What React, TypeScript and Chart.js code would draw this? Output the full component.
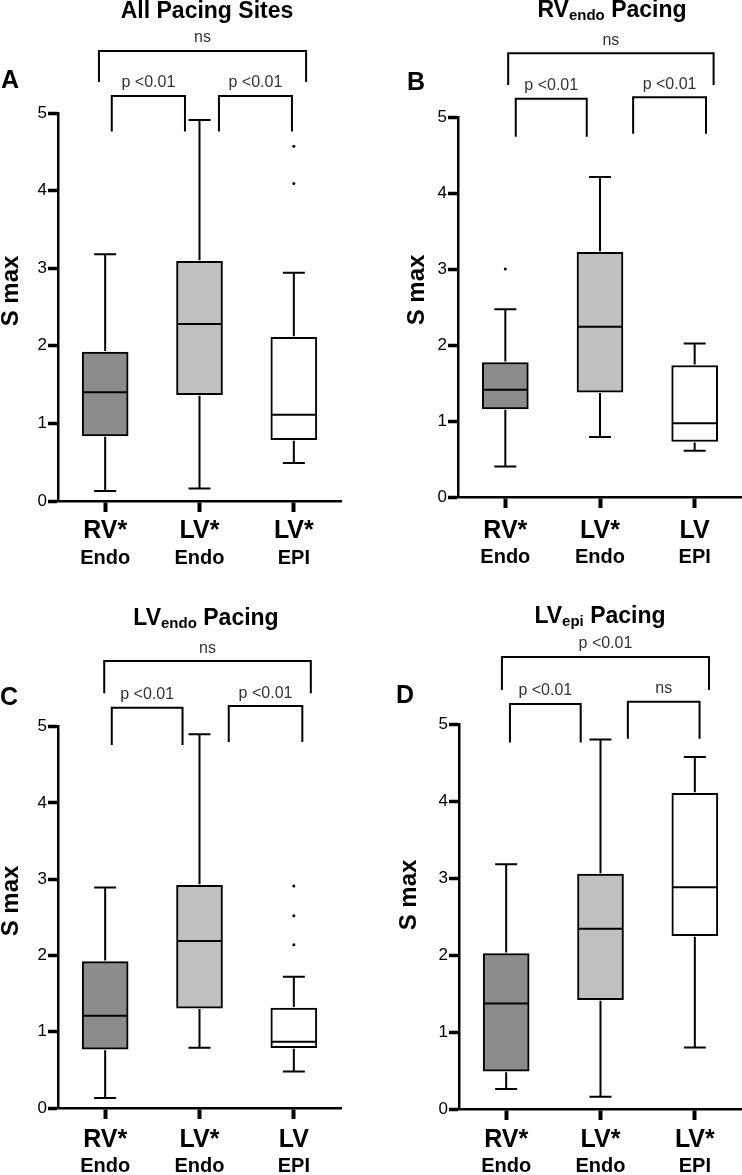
import React, { useEffect, useRef } from "react";
import { Chart, registerables } from "chart.js";

Chart.register(...registerables);

const FONT = '"Liberation Sans", Arial, Helvetica, sans-serif';

// ---------- Panel A : All Pacing Sites ----------
const categoriesA = [["RV*", "Endo"], ["LV*", "Endo"], ["LV*", "EPI"]];
const minA = [0.13, 0.16, 0.49];
const q1A = [0.84, 1.37, 0.79];
const medianA = [1.4, 2.28, 1.11];
const q3A = [1.92, 3.09, 2.11];
const maxA = [3.18, 4.91, 2.94];
const outliersA = [[], [], [4.57, 4.09]];
const comparisonsA = ["ns", "p <0.01", "p <0.01"];

// ---------- Panel B : RVendo Pacing ----------
const categoriesB = [["RV*", "Endo"], ["LV*", "Endo"], ["LV", "EPI"]];
const minB = [0.4, 0.79, 0.61];
const q1B = [1.16, 1.38, 0.73];
const medianB = [1.41, 2.24, 0.97];
const q3B = [1.77, 3.22, 1.73];
const maxB = [2.47, 4.21, 2.02];
const outliersB = [[3.0], [], []];
const comparisonsB = ["ns", "p <0.01", "p <0.01"];

// ---------- Panel C : LVendo Pacing ----------
const categoriesC = [["RV*", "Endo"], ["LV*", "Endo"], ["LV", "EPI"]];
const minC = [0.13, 0.79, 0.48];
const q1C = [0.77, 1.31, 0.79];
const medianC = [1.21, 2.19, 0.87];
const q3C = [1.92, 2.92, 1.31];
const maxC = [2.89, 4.9, 1.72];
const outliersC = [[], [], [2.91, 2.52, 2.14]];
const comparisonsC = ["ns", "p <0.01", "p <0.01"];

// ---------- Panel D : LVepi Pacing ----------
const categoriesD = [["RV*", "Endo"], ["LV*", "Endo"], ["LV*", "EPI"]];
const minD = [0.26, 0.16, 0.8];
const q1D = [0.49, 1.42, 2.25];
const medianD = [1.37, 2.34, 2.88];
const q3D = [2.02, 3.05, 4.1];
const maxD = [3.18, 4.8, 4.57];
const outliersD = [[], [], []];
const comparisonsD = ["p <0.01", "p <0.01", "ns"];

const yTicks = [0, 1, 2, 3, 4, 5];
const boxFills = ["#8c8c8c", "#c0c0c0", "#ffffff"];

type Part = { t: string; sub?: boolean };

const panels = [
  {
    key: "A", left: 0, top: 0, w: 371, h: 580,
    padTop: 113, padRight: 30, yWidth: 58, xHeight: 79,
    title: [{ t: "All Pacing Sites" }] as Part[], titleX: 207, titleY: 18,
    letter: "A", letterX: 10, letterY: 88,
    yTitleX: 18, yTitleY: 291, lab1: 37, lab2: 63,
    cats: categoriesA, min: minA, q1: q1A, med: medianA, q3: q3A, max: maxA, out: outliersA, comp: comparisonsA,
    brackets: [
      { from: -0.066, to: 2.13, top: 5.8, leg: 5.4 },
      { from: 0.07, to: 0.846, top: 5.22, leg: 4.76 },
      { from: 1.206, to: 1.98, top: 5.22, leg: 4.76 },
    ],
  },
  {
    key: "B", left: 371, top: 0, w: 371, h: 580,
    padTop: 117, padRight: 0, yWidth: 87, xHeight: 83,
    title: [{ t: "RV" }, { t: "endo", sub: true }, { t: " Pacing" }] as Part[], titleX: 241, titleY: 17,
    letter: "B", letterX: 45, letterY: 90,
    yTitleX: 53, yTitleY: 290, lab1: 41, lab2: 66,
    cats: categoriesB, min: minB, q1: q1B, med: medianB, q3: q3B, max: maxB, out: outliersB, comp: comparisonsB,
    brackets: [
      { from: 0.03, to: 2.2, top: 5.84, leg: 5.42 },
      { from: 0.11, to: 0.86, top: 5.24, leg: 4.74 },
      { from: 1.35, to: 2.12, top: 5.26, leg: 4.78 },
    ],
  },
  {
    key: "C", left: 0, top: 580, w: 371, h: 595,
    padTop: 146.7, padRight: 30, yWidth: 58, xHeight: 67,
    title: [{ t: "LV" }, { t: "endo", sub: true }, { t: " Pacing" }] as Part[], titleX: 206, titleY: 45,
    letter: "C", letterX: 9, letterY: 125,
    yTitleX: 18, yTitleY: 321, lab1: 39, lab2: 64,
    cats: categoriesC, min: minC, q1: q1C, med: medianC, q3: q3C, max: maxC, out: outliersC, comp: comparisonsC,
    brackets: [
      { from: -0.01, to: 2.18, top: 5.86, leg: 5.44 },
      { from: 0.07, to: 0.82, top: 5.25, leg: 4.76 },
      { from: 1.31, to: 2.09, top: 5.27, leg: 4.8 },
    ],
  },
  {
    key: "D", left: 371, top: 580, w: 371, h: 595,
    padTop: 144, padRight: 0, yWidth: 88, xHeight: 66,
    title: [{ t: "LV" }, { t: "epi", sub: true }, { t: " Pacing" }] as Part[], titleX: 229, titleY: 43,
    letter: "D", letterX: 34, letterY: 123,
    yTitleX: 45, yTitleY: 315, lab1: 38, lab2: 63,
    cats: categoriesD, min: minD, q1: q1D, med: medianD, q3: q3D, max: maxD, out: outliersD, comp: comparisonsD,
    brackets: [
      { from: -0.045, to: 2.15, top: 5.87, leg: 5.44 },
      { from: 0.04, to: 0.79, top: 5.26, leg: 4.76 },
      { from: 1.29, to: 2.05, top: 5.29, leg: 4.81 },
    ],
  },
];

type PanelCfg = (typeof panels)[number];

function makeDecor(p: PanelCfg) {
  return {
    id: "decor" + p.key,
    afterDraw(chart: any) {
      const { ctx, chartArea } = chart;
      const xs = chart.scales.x;
      const ys = chart.scales.y;
      ctx.save();
      ctx.strokeStyle = "#000";
      ctx.fillStyle = "#000";
      ctx.lineWidth = 2;
      ctx.lineCap = "butt";
      const capHalf = 11;
      const boxHalf = 22;
      p.min.forEach((mn, i) => {
        const cx = xs.getPixelForValue(i);
        const yMin = ys.getPixelForValue(mn);
        const yQ1 = ys.getPixelForValue(p.q1[i]);
        const yMed = ys.getPixelForValue(p.med[i]);
        const yQ3 = ys.getPixelForValue(p.q3[i]);
        const yMax = ys.getPixelForValue(p.max[i]);
        ctx.beginPath();
        ctx.moveTo(cx, yQ1 + 1);
        ctx.lineTo(cx, yMin);
        ctx.moveTo(cx - capHalf, yMin);
        ctx.lineTo(cx + capHalf, yMin);
        ctx.moveTo(cx, yQ3 - 1);
        ctx.lineTo(cx, yMax);
        ctx.moveTo(cx - capHalf, yMax);
        ctx.lineTo(cx + capHalf, yMax);
        ctx.moveTo(cx - boxHalf, yMed);
        ctx.lineTo(cx + boxHalf, yMed);
        ctx.stroke();
        p.out[i].forEach((v: number) => {
          ctx.beginPath();
          ctx.arc(cx, ys.getPixelForValue(v), 1.5, 0, Math.PI * 2);
          ctx.fill();
        });
        // category labels
        ctx.textAlign = "center";
        ctx.textBaseline = "alphabetic";
        ctx.font = `bold 25px ${FONT}`;
        ctx.fillText(p.cats[i][0], cx, chartArea.bottom + p.lab1);
        ctx.font = `bold 20px ${FONT}`;
        ctx.fillText(p.cats[i][1], cx, chartArea.bottom + p.lab2);
      });

      // significance brackets
      p.brackets.forEach((b, k) => {
        const x1 = xs.getPixelForValue(b.from);
        const x2 = xs.getPixelForValue(b.to);
        const yT = ys.getPixelForValue(b.top);
        const yL = ys.getPixelForValue(b.leg);
        ctx.beginPath();
        ctx.moveTo(x1, yL);
        ctx.lineTo(x1, yT);
        ctx.lineTo(x2, yT);
        ctx.lineTo(x2, yL);
        ctx.stroke();
        ctx.font = `16px ${FONT}`;
        ctx.fillStyle = "#333";
        ctx.textAlign = "center";
        ctx.textBaseline = "middle";
        ctx.fillText(p.comp[k], (x1 + x2) / 2, yT - 13);
        ctx.fillStyle = "#000";
      });

      // title with optional subscript
      const bigFont = `bold 23px ${FONT}`;
      const subFont = `bold 15px ${FONT}`;
      let total = 0;
      p.title.forEach((part) => {
        ctx.font = part.sub ? subFont : bigFont;
        total += ctx.measureText(part.t).width;
      });
      let x = p.titleX - total / 2;
      ctx.textAlign = "left";
      ctx.textBaseline = "alphabetic";
      p.title.forEach((part) => {
        ctx.font = part.sub ? subFont : bigFont;
        ctx.fillText(part.t, x, p.titleY + (part.sub ? 3 : 0));
        x += ctx.measureText(part.t).width;
      });

      // panel letter
      ctx.font = `bold 25px ${FONT}`;
      ctx.textAlign = "center";
      ctx.fillText(p.letter, p.letterX, p.letterY);

      // y axis title
      ctx.save();
      ctx.translate(p.yTitleX, p.yTitleY);
      ctx.rotate(-Math.PI / 2);
      ctx.font = `bold 24px ${FONT}`;
      ctx.textAlign = "center";
      ctx.textBaseline = "alphabetic";
      ctx.fillText("S max", 0, 0);
      ctx.restore();

      ctx.restore();
    },
  };
}

function Panel({ p }: { p: PanelCfg }) {
  const ref = useRef<HTMLCanvasElement>(null);
  useEffect(() => {
    if (!ref.current) return;
    const chart = new Chart(ref.current, {
      type: "bar",
      data: {
        labels: p.cats.map((c) => c.join(" ")),
        datasets: [
          {
            data: p.q1.map((v, i) => [v, p.q3[i]]) as any,
            backgroundColor: boxFills,
            borderColor: "#000",
            borderWidth: 2,
            borderSkipped: false,
            barThickness: 46,
          },
        ],
      },
      options: {
        animation: false,
        responsive: false,
        maintainAspectRatio: false,
        devicePixelRatio: 1,
        layout: { padding: { top: p.padTop, right: p.padRight, bottom: 0, left: 0 } },
        plugins: { legend: { display: false }, tooltip: { enabled: false }, title: { display: false } },
        scales: {
          x: {
            type: "category",
            offset: true,
            ticks: { display: false },
            grid: {
              display: true,
              drawOnChartArea: false,
              drawTicks: true,
              tickLength: 11,
              tickWidth: 4,
              tickColor: "#000",
              offset: false,
            },
            border: { display: true, color: "#000", width: 2.5 },
            afterFit: (s: any) => {
              s.height = p.xHeight;
            },
          },
          y: {
            type: "linear",
            min: 0,
            max: 5,
            afterBuildTicks: (s: any) => {
              s.ticks = yTicks.map((v) => ({ value: v }));
            },
            ticks: {
              font: { size: 17, family: FONT },
              color: "#000",
              padding: 1,
            },
            grid: {
              display: true,
              drawOnChartArea: false,
              drawTicks: true,
              tickLength: 10,
              tickWidth: 3.5,
              tickColor: "#000",
            },
            border: { display: true, color: "#000", width: 2.5 },
            afterFit: (s: any) => {
              s.width = p.yWidth;
            },
          },
        },
      },
      plugins: [makeDecor(p)],
    });
    return () => chart.destroy();
  }, []);
  return (
    <canvas
      ref={ref}
      width={p.w}
      height={p.h}
      style={{ position: "absolute", left: p.left, top: p.top, width: p.w, height: p.h }}
    />
  );
}

export default function App() {
  return (
    <div style={{ position: "absolute", left: 0, top: 0, width: 742, height: 1175, background: "#fff", overflow: "hidden" }}>
      {panels.map((p) => (
        <Panel key={p.key} p={p} />
      ))}
    </div>
  );
}
